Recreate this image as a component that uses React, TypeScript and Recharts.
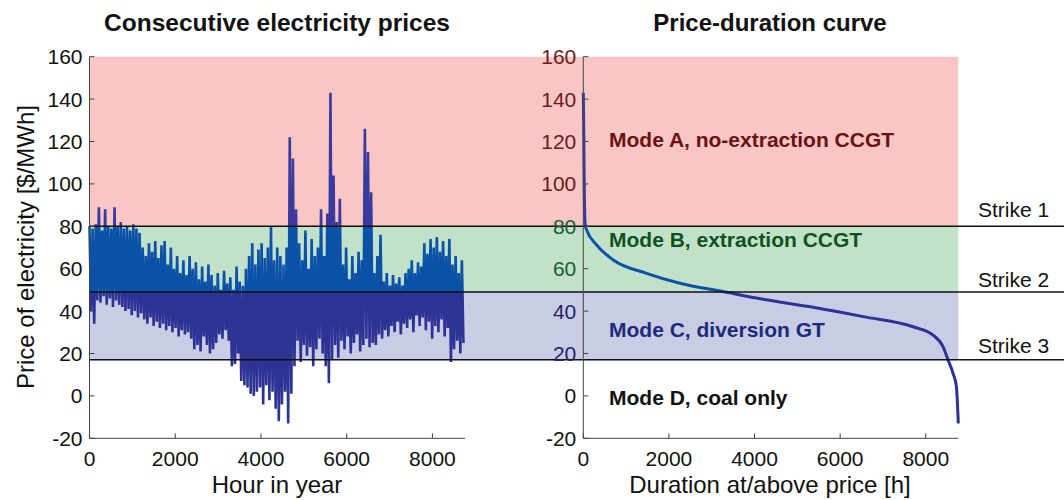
import { LineChart, Line, XAxis, YAxis, ReferenceArea, ReferenceLine } from 'recharts';

const FONT = '"Liberation Sans", Arial, Helvetica, sans-serif';

// hourly prices, summarised as max / min over 120 bins of 73 h each
const BIN_HOURS = 73;
const binHigh = [
  80, 79, 81, 89, 78, 88, 80, 79, 89, 80, 82, 79, 80, 78, 81, 79, 77,
  70, 66, 72, 68, 73, 65, 71, 73,
  62, 70, 60, 66, 58, 64,
  57, 66, 60, 63, 55,
  61, 54, 62, 57,
  52, 58, 50, 59, 53, 56,
  50, 61, 54, 52, 60,
  66, 72, 62, 69,
  72, 65, 70,
  80, 64, 70,
  66, 62, 70,
  122, 112, 88,
  72, 64, 78, 60, 74, 66, 70,
  88, 66, 86, 143, 104, 82, 93,
  62, 70, 55, 66, 58, 68, 64,
  126, 115, 96,
  58, 66, 76,
  54, 58, 52, 57, 53, 56, 52, 58,
  60, 64, 58, 63, 61,
  72, 67, 74, 70,
  75, 68, 73, 66, 74,
  62, 66, 58, 64,
];
const binLow = [
  40, 34, 45, 44, 47, 43, 46, 42, 45, 43, 42, 40, 41, 38, 40, 37, 39,
  36, 34, 37, 33, 35, 32, 34, 31,
  33, 30, 32, 28, 31, 29,
  30, 27, 22, 24, 21,
  28, 24, 20, 22,
  25, 29, 27, 31, 26, 14,
  15, 20, 7, 5, 4,
  1, 0, 2, 4,
  -4, 5, -2,
  2, -6, -12,
  -4, 2, -13,
  1, 14, 26,
  16, 24, 19, 23, 14, 22, 27,
  20, 14, 6, 17, 24, 18, 26,
  22, 28, 20, 25, 29, 21, 24,
  27, 23, 25,
  24, 29, 27,
  31, 28, 33, 30, 35, 29, 34, 32,
  36, 30, 38, 33, 37,
  31, 35, 27, 33,
  30, 36, 28, 32, 16,
  22, 26, 20, 25,
];

// sorted prices (price-duration curve)
const durationHours = [0, 8, 16, 25, 35, 50, 79, 312, 701, 1479, 2257, 3263, 4202, 5369, 6536, 7703, 8170, 8403, 8520, 8637, 8716, 8760];
const durationPrice = [143, 130, 112, 95, 84, 80, 78.2, 71.2, 64.1, 57.8, 53.1, 49.2, 45.6, 41.8, 37.4, 32.6, 28.7, 23.2, 17, 10.7, 4.3, -13];

const priceTicks = [-20, 0, 20, 40, 60, 80, 100, 120, 140, 160];
const hourTicks = [0, 2000, 4000, 6000, 8000];
const HOURS = 8760;
const PRICE_MIN = -20;
const PRICE_MAX = 160;

const strikePrices = [80, 49, 17];
const strikeNames = ['Strike 1', 'Strike 2', 'Strike 3'];
const modeNames = ['Mode A, no-extraction CCGT', 'Mode B, extraction CCGT', 'Mode C, diversion GT', 'Mode D, coal only'];

const bandFill = ['#f8c6c4', '#c1e2c8', '#c8cce5'];
const lineInBand = ['#3a3a9e', '#0b51a8', '#2d3394', '#2d3394'];
const modeText = ['#6b1212', '#10521f', '#1f2a7a', '#111'];

const priceData = binHigh.flatMap((hi, i) => [
  { hour: i * BIN_HOURS, price: hi },
  { hour: i * BIN_HOURS + BIN_HOURS / 2, price: binLow[i] },
]);
const durationData = durationHours.map((h, i) => ({ hour: h, price: durationPrice[i] }));

// layout
const PLOT_TOP = 56.7;
const PLOT_BOTTOM = 438.3;
const CHART_H = 500;
const AXIS = '#444';

const off = (v: number) => (PRICE_MAX - v) / (PRICE_MAX - PRICE_MIN);

function BandGradient({ id }: { id: string }) {
  const edges = [PRICE_MAX, ...strikePrices, PRICE_MIN];
  const stops: JSX.Element[] = [];
  lineInBand.forEach((c, i) => {
    stops.push(<stop key={`a${i}`} offset={off(edges[i])} stopColor={c} />);
    stops.push(<stop key={`b${i}`} offset={off(edges[i + 1])} stopColor={c} />);
  });
  return (
    <defs>
      <linearGradient id={id} gradientUnits="userSpaceOnUse" x1={0} x2={0} y1={PLOT_TOP} y2={PLOT_BOTTOM}>
        {stops}
      </linearGradient>
    </defs>
  );
}

const RightTick = (props: any) => {
  const { x, y, payload } = props;
  const v = payload.value;
  const fill = v > 80 ? '#6b1b1b' : v >= 49 ? '#17602c' : v >= 17 ? '#1e2569' : '#111';
  return (
    <text x={x} y={y} dy="0.355em" textAnchor="end" fontSize={21} fill={fill} fontFamily={FONT}>
      {v}
    </text>
  );
};

const tickStyle = { fontSize: 21, fill: '#111', fontFamily: FONT };

function Bands({ x1 }: { x1?: number }) {
  const edges = [PRICE_MAX, ...strikePrices];
  return (
    <>
      {bandFill.map((f, i) => (
        <ReferenceArea
          key={i}
          x1={x1}
          x2={x1 === undefined ? undefined : HOURS}
          y1={edges[i + 1]}
          y2={edges[i]}
          fill={f}
          fillOpacity={1}
          stroke="none"
          ifOverflow="visible"
        />
      ))}
    </>
  );
}

function LeftChart() {
  return (
    <LineChart width={480} height={CHART_H} data={priceData} margin={{ top: PLOT_TOP, right: 15, left: 0, bottom: 0 }}>
      <BandGradient id="gLeft" />
      {Bands({})}
      <XAxis dataKey="hour" type="number" domain={[0, HOURS]} ticks={hourTicks} height={CHART_H - PLOT_BOTTOM}
        tickSize={-5} tickMargin={18} tick={tickStyle} axisLine={{ stroke: AXIS }} tickLine={{ stroke: AXIS }} />
      <XAxis xAxisId="top" orientation="top" type="number" domain={[0, HOURS]} ticks={hourTicks} height={0}
        tickSize={-5} tick={false} axisLine={{ stroke: AXIS }} tickLine={{ stroke: AXIS }} />
      <YAxis type="number" domain={[PRICE_MIN, PRICE_MAX]} ticks={priceTicks} width={89.5}
        tickSize={-5} tickMargin={12} tick={tickStyle} axisLine={{ stroke: AXIS }} tickLine={{ stroke: AXIS }} />
      <YAxis yAxisId="r" orientation="right" type="number" domain={[PRICE_MIN, PRICE_MAX]} ticks={priceTicks} width={0}
        tickSize={-5} tick={false} axisLine={{ stroke: AXIS }} tickLine={{ stroke: AXIS }} />
      <Line dataKey="price" type="linear" stroke="url(#gLeft)" strokeWidth={2.6} strokeLinejoin="bevel" dot={false} isAnimationActive={false} />
      {strikePrices.map((s) => (
        <ReferenceLine key={s} y={s} stroke="#111" strokeWidth={1.5} />
      ))}
    </LineChart>
  );
}

function RightChart() {
  return (
    <LineChart width={599} height={CHART_H} data={durationData} margin={{ top: PLOT_TOP, right: 105.7, left: 0, bottom: 0 }}>
      <BandGradient id="gRight" />
      {Bands({ x1: -4000 })}
      <XAxis dataKey="hour" type="number" domain={[0, HOURS]} ticks={hourTicks} height={CHART_H - PLOT_BOTTOM}
        tickSize={-5} tickMargin={18} tick={tickStyle} axisLine={{ stroke: AXIS }} tickLine={{ stroke: AXIS }} />
      <XAxis xAxisId="top" orientation="top" type="number" domain={[0, HOURS]} ticks={hourTicks} height={0}
        tickSize={-5} tick={false} axisLine={{ stroke: AXIS }} tickLine={{ stroke: AXIS }} />
      <YAxis type="number" domain={[PRICE_MIN, PRICE_MAX]} ticks={priceTicks} width={118.3}
        tickSize={-5} tickMargin={12} tick={<RightTick />} axisLine={{ stroke: AXIS }} tickLine={{ stroke: AXIS }} />
      <YAxis yAxisId="r" orientation="right" type="number" domain={[PRICE_MIN, PRICE_MAX]} ticks={priceTicks} width={0}
        tickSize={-5} tick={false} axisLine={{ stroke: AXIS }} tickLine={{ stroke: AXIS }} />
      <Line dataKey="price" type="monotone" stroke="url(#gRight)" strokeWidth={3} dot={false} isAnimationActive={false} />
      {strikePrices.map((s) => (
        <ReferenceLine key={s} segment={[{ x: -4000, y: s }, { x: 14000, y: s }]} stroke="#111" strokeWidth={1.5} ifOverflow="visible" />
      ))}
    </LineChart>
  );
}

export default function App() {
  const strikeBase = [217, 286.7, 353.3];
  const modeBase = [146.7, 246.7, 336.7, 405];
  return (
    <div style={{ position: 'absolute', left: 0, top: 0, width: 1064, height: 500, background: '#fff', fontFamily: FONT }}>
      <div style={{ position: 'absolute', left: 465, top: 0 }}>
        <RightChart />
      </div>
      <div style={{ position: 'absolute', left: 0, top: 0 }}>
        <LeftChart />
      </div>
      <svg width={1064} height={500} style={{ position: 'absolute', left: 0, top: 0, pointerEvents: 'none' }} fontFamily={FONT}>
        <text x={277} y={31} textAnchor="middle" fontSize={24.5} fontWeight="bold" fill="#111">Consecutive electricity prices</text>
        <text x={770} y={31} textAnchor="middle" fontSize={24} fontWeight="bold" fill="#111">Price-duration curve</text>
        <text x={277} y={493} textAnchor="middle" fontSize={24} fill="#111">Hour in year</text>
        <text x={770} y={493} textAnchor="middle" fontSize={24} fill="#111">Duration at/above price [h]</text>
        <text x={34} y={247} textAnchor="middle" fontSize={24} fill="#111" transform="rotate(-90 34 247)">Price of electricity [$/MWh]</text>
        {strikeNames.map((s, i) => (
          <text key={s} x={978} y={strikeBase[i]} fontSize={21} fill="#111">{s}</text>
        ))}
        {modeNames.map((m, i) => (
          <text key={m} x={609} y={modeBase[i]} fontSize={21} fontWeight="bold" fill={modeText[i]}>{m}</text>
        ))}
      </svg>
    </div>
  );
}
